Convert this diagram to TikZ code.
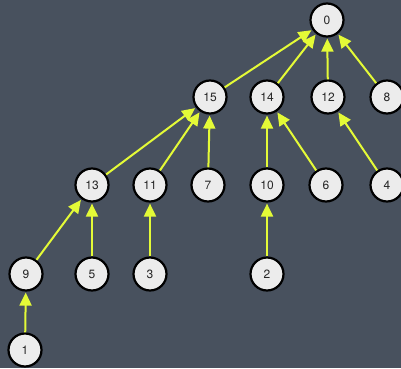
\documentclass[tikz,border=0pt]{standalone}
\usepackage{fontspec}
\setmainfont{TeX Gyre Heros}
\usepackage{tikz}
\usetikzlibrary{arrows.meta}
\usetikzlibrary{positioning}
\definecolor{board}{RGB}{72,81,94}
\definecolor{chalkyel}{RGB}{228,250,55}
\definecolor{vfill}{RGB}{236,236,236}

\begin{document}
\begin{tikzpicture}[
  x=1pt, y=1pt,
  font=\fontsize{12}{14}\selectfont,
  vert/.style={circle, draw=black, line width=2.2pt, fill=vfill, text=black!85, minimum size=33pt, inner sep=0pt},
  up/.style={draw=chalkyel, line width=2pt, -{Triangle[length=13pt,width=12pt]}, shorten >=1pt}
]

% chalkboard
\fill[board] (0,0) rectangle (401,368);
\useasboundingbox (0,0) rectangle (401,368);

% root and first level
\node[vert] (n0)  at (327,348) {0};
\node[vert] (n15) at (210,271) {15};
\node[vert] (n14) at (267,271) {14};
\node[vert] (n12) at (328,271) {12};
\node[vert] (n8)  at (387,271) {8};

% second level
\node[vert] (n13) at (92,183)  {13};
\node[vert] (n11) at (150,183) {11};
\node[vert] (n7)  at (208,183) {7};
\node[vert] (n10) at (267,183) {10};
\node[vert] (n6)  at (326,183) {6};
\node[vert] (n4)  at (387,183) {4};

% third level
\node[vert] (n9) at (26,94)  {9};
\node[vert] (n5) at (92,94)  {5};
\node[vert] (n3) at (150,94) {3};
\node[vert] (n2) at (267,94) {2};

\node[vert] (n1) at (25,18) {1};

% parent pointers
\foreach \c/\p in {15/0, 14/0, 12/0, 8/0,
                   13/15, 11/15, 7/15, 10/14, 6/14, 4/12,
                   9/13, 5/13, 3/11, 2/10, 1/9}
  \draw[up] (n\c) -- (n\p);

\end{tikzpicture}
\end{document}
